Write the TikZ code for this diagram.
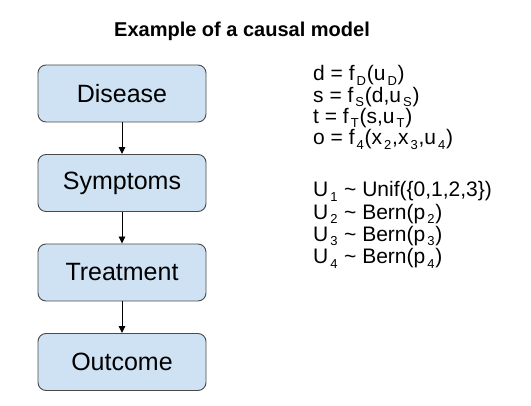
\documentclass[tikz,border=0pt]{standalone}
\usepackage{fontspec}
\setmainfont{Liberation Sans}
\usepackage{tikz}
\usetikzlibrary{arrows.meta,positioning}

\definecolor{boxblue}{HTML}{CFE2F3}
\definecolor{boxline}{HTML}{4A4A4A}
\newcommand{\lowidx}[1]{\kern2pt\raisebox{-0.2em}{\fontsize{13}{13}\selectfont #1}\kern0.8pt\relax}

\begin{document}
\begin{tikzpicture}[x=1pt,y=-1pt,node distance=89.5pt,on grid]
  \tikzset{
    var/.style={draw=boxline,fill=boxblue,line width=0.9pt,rounded corners=8pt,
      minimum width=168pt,minimum height=57pt,font=\fontsize{25}{25}\selectfont},
    eq/.style={anchor=base west,inner sep=0pt,font=\fontsize{21}{21}\selectfont},
    link/.style={-{Triangle[width=6.5pt,length=7pt]},line width=0.9pt}
  }
  \useasboundingbox (0,0) rectangle (531,406);
  \node[font=\bfseries\fontsize{20}{20}\selectfont,anchor=base] (title) at (242,37) {Example of a causal model};
  \node[var] (disease) at (122,93.5) {Disease};
  \node[var] (symptoms) [below=of disease] {Symptoms};
  \node[var] (treatment) [below=of symptoms] {Treatment};
  \node[var] (outcome) [below=of treatment] {Outcome};
  \draw[link] (disease) -- (symptoms);
  \draw[link] (symptoms) -- (treatment);
  \draw[link] (treatment) -- (outcome);
  % structural equations
  \node[eq] (eqd) at (313,81) {d = f\lowidx{D}(u\lowidx{D})};
  \node[eq] (eqs) at (313,102.3) {s = f\lowidx{S}(d,u\lowidx{S})};
  \node[eq] (eqt) at (313,123.6) {t = f\lowidx{T}(s,u\lowidx{T})};
  \node[eq] (eqo) at (313,145) {o = f\lowidx{4}(x\lowidx{2},x\lowidx{3},u\lowidx{4})};
  % noise distributions
  \node[eq] (pu1) at (313,197) {U\lowidx{1} \textasciitilde{} Unif(\{0,1,2,3\})};
  \node[eq] (pu2) at (313,219.3) {U\lowidx{2} \textasciitilde{} Bern(p\lowidx{2})};
  \node[eq] (pu3) at (313,241.6) {U\lowidx{3} \textasciitilde{} Bern(p\lowidx{3})};
  \node[eq] (pu4) at (313,264) {U\lowidx{4} \textasciitilde{} Bern(p\lowidx{4})};
\end{tikzpicture}
\end{document}
